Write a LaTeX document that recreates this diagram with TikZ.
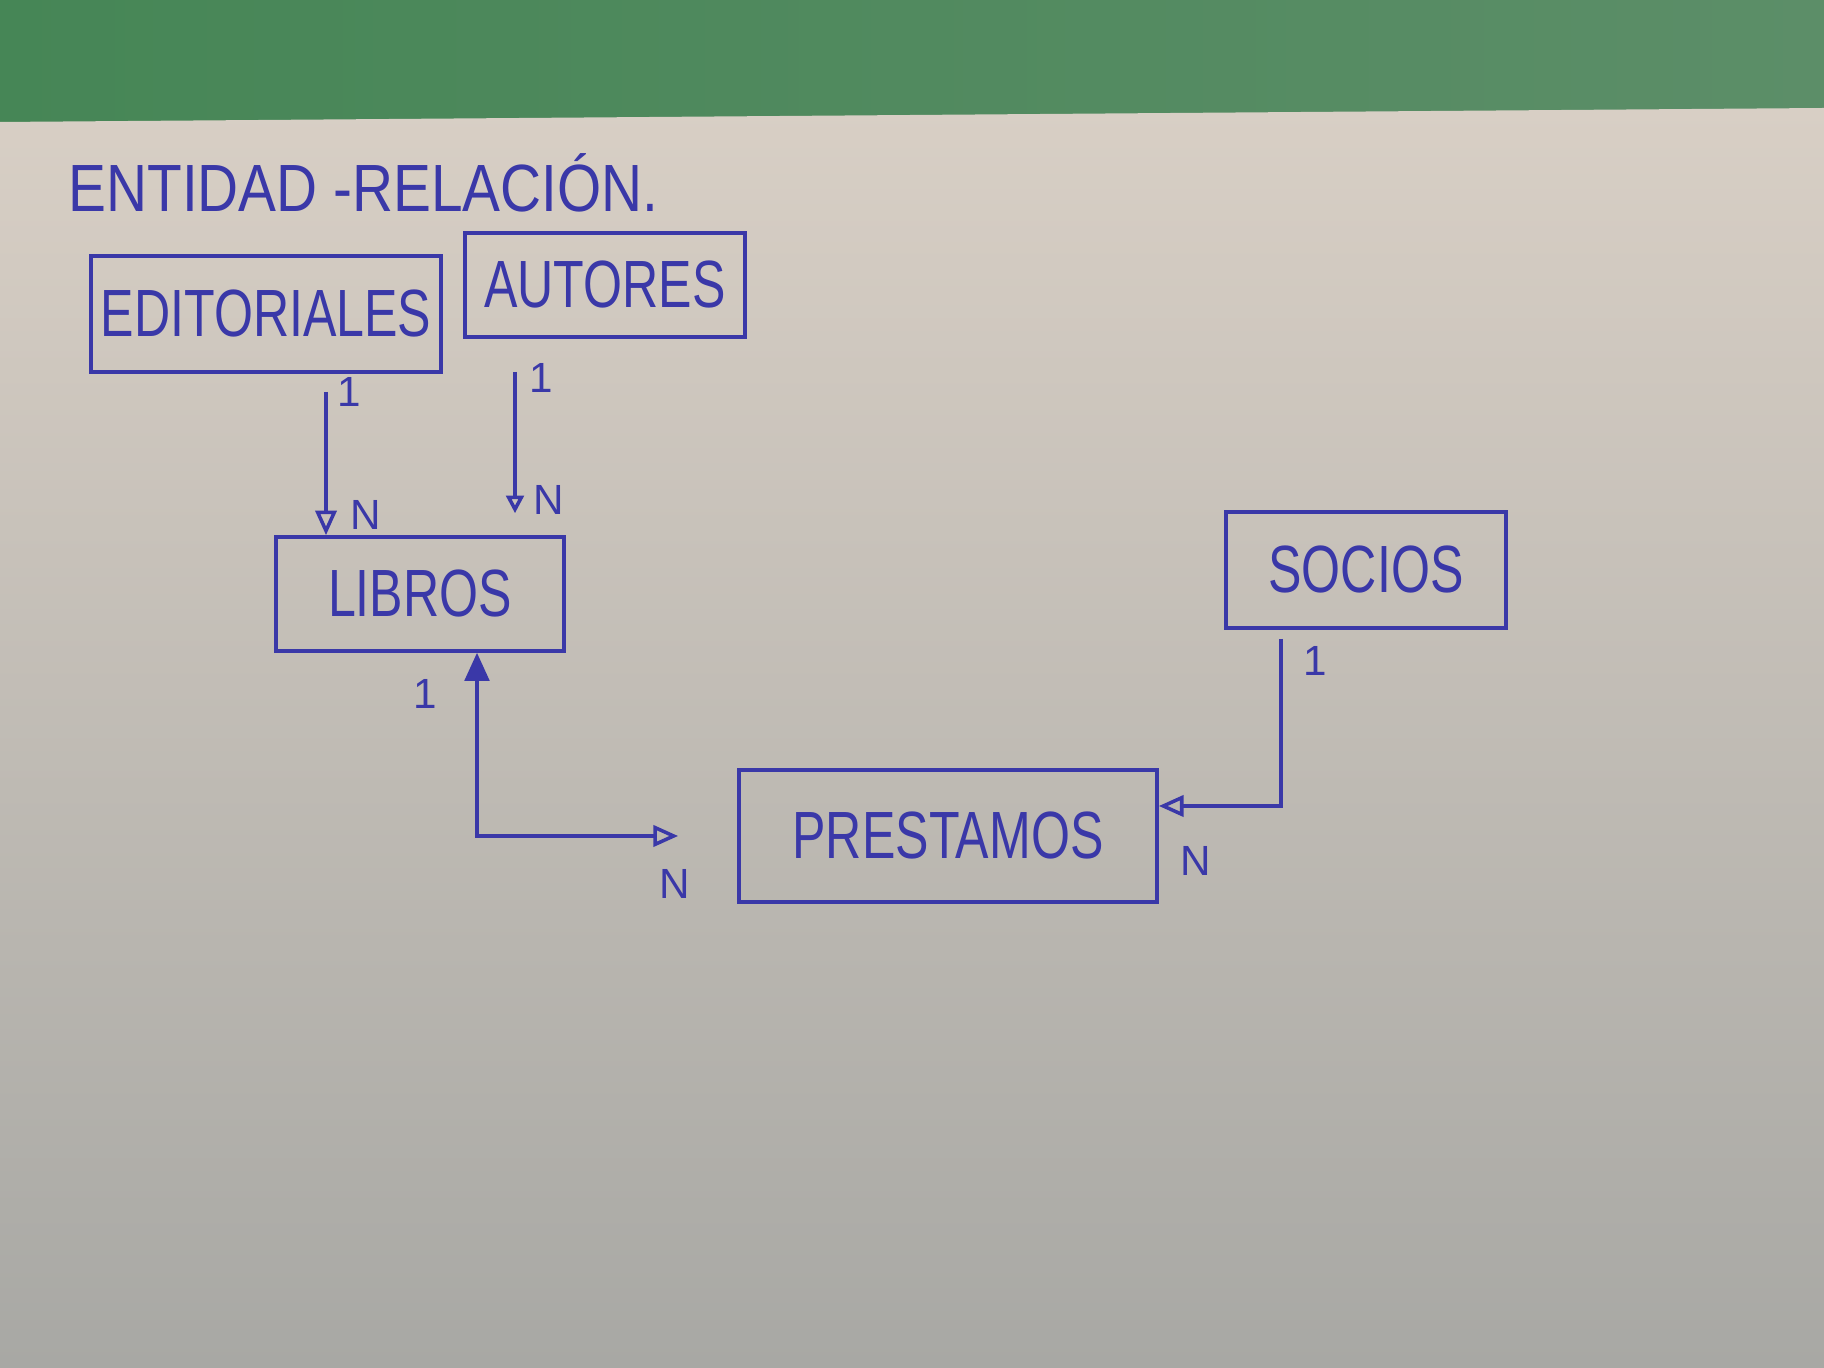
\documentclass[tikz,border=0pt]{standalone}
\usepackage{graphicx}
\usepackage{fontspec}
\setmainfont{Liberation Sans}
\usetikzlibrary{arrows.meta}
\definecolor{ink}{RGB}{58,56,168}
\definecolor{feltA}{RGB}{70,134,86}
\definecolor{feltB}{RGB}{92,142,104}
\definecolor{paperA}{RGB}{216,207,197}
\definecolor{paperB}{RGB}{168,168,164}
\newcommand{\hw}[1]{\scalebox{0.75}[1]{#1}}
\begin{document}
\begin{tikzpicture}[x=0.01cm,y=-0.01cm,
    entity/.style={draw=ink,line width=1pt,text=ink,inner sep=0pt,font=\fontsize{19}{22}\selectfont},
    card/.style={text=ink,inner sep=1pt,font=\fontsize{12}{14}\selectfont},
    link/.style={draw=ink,line width=1pt}]
        % photo background: green felt and the sheet of paper
        \useasboundingbox (0,0) rectangle (1824,1368);
        \shade[left color=feltA,right color=feltB] (0,0) rectangle (1824,130);
        \shade[top color=paperA,bottom color=paperB] (0,122) -- (1824,108) -- (1824,1368) -- (0,1368) -- cycle;
        \node[text=ink,anchor=west,font=\fontsize{19}{22}\selectfont] (title) at (56,183) {\scalebox{0.85}[1]{ENTIDAD -RELACIÓN.}};
        % entities
        \node[entity,minimum width=3.5cm,minimum height=1.16cm] (edit) at (266,314) {\hw{EDITORIALES}};
        \node[entity,minimum width=2.8cm,minimum height=1.04cm] (aut) at (605,285) {\hw{AUTORES}};
        \node[entity,minimum width=2.88cm,minimum height=1.14cm] (lib) at (420,594) {\hw{LIBROS}};
        \node[entity,minimum width=4.18cm,minimum height=1.32cm] (pres) at (948,836) {\hw{PRESTAMOS}};
        \node[entity,minimum width=2.8cm,minimum height=1.16cm] (soc) at (1366,570) {\hw{SOCIOS}};
        % bends of the connectors
        \coordinate (ea) at (326,0);
        \coordinate (aa) at (515,0);
        \coordinate (lp) at (477,836);
        \coordinate (sp) at (1281,806);
        \draw[link,-{Triangle[open,length=7pt,width=6pt]},shorten <=0.18cm] (edit.south -| ea) -- (lib.north -| ea);
        \draw[link,-{Triangle[open,length=5pt,width=5pt]},shorten <=0.33cm,shorten >=0.22cm] (aut.south -| aa) -- (lib.north -| aa);
        \draw[link,{Triangle[length=8pt,width=7pt]}-{Triangle[open,length=7pt,width=6pt]},shorten >=0.59cm] (lib.south -| lp) -- (lp) -- (pres.west |- lp);
        \draw[link,-{Triangle[open,length=7pt,width=6pt]},shorten <=0.09cm] (soc.south -| sp) -- (sp) -- (pres.east |- sp);
        % cardinalities
        \node[card] (c1) at (349,392) {1};
        \node[card] (c2) at (366,515) {N};
        \node[card] (c3) at (541,378) {1};
        \node[card] (c4) at (549,500) {N};
        \node[card] (c5) at (425,694) {1};
        \node[card] (c6) at (675,884) {N};
        \node[card] (c7) at (1315,661) {1};
        \node[card] (c8) at (1196,861) {N};
\end{tikzpicture}
\end{document}
